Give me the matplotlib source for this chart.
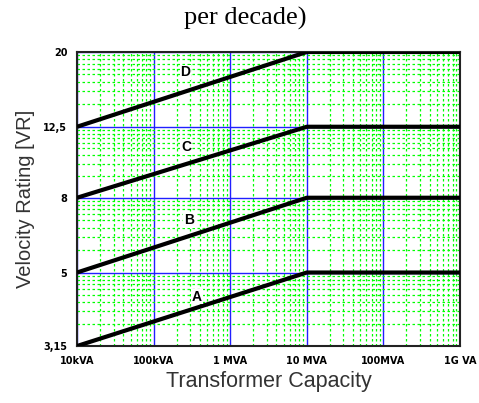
import numpy as np
import matplotlib
matplotlib.use("Agg")
import matplotlib.pyplot as plt
from matplotlib.ticker import FixedLocator, NullFormatter

# capacity range (kVA -> VA) and velocity rating levels
x_ticks = [1e4, 1e5, 1e6, 1e7, 1e8, 1e9]
x_labels = ["10kVA", "100kVA", "1 MVA", "10 MVA", "100MVA", "1G VA"]
y_ticks = [3.15, 5, 8, 12.5, 20]
y_labels = ["3,15", "5", "8", "12,5", "20"]

# each curve: rises from start to end level up to 10 MVA, then flat
curve_names = ["A", "B", "C", "D"]
curve_x = [1e4, 1e7, 1e9]
curve_start = [3.15, 5, 8, 12.5]
curve_end = [5, 8, 12.5, 20]
label_x = [3.7e5, 2.9e5, 2.7e5, 2.6e5]
label_y = [4.3, 6.95, 11.0, 17.6]

fig = plt.figure(figsize=(4.79, 4.03), dpi=100)
ax = fig.add_axes([0.1608, 0.1414, 0.7995, 0.7296])
ax.set_xscale("log")
ax.set_yscale("log")
ax.set_xlim(1e4, 1e9)
ax.set_ylim(3.15, 20)

# minor grid: decade-like subdivisions inside each band
x_minor = [d * k for d in x_ticks[:-1] for k in range(2, 10)]
y_minor = []
for a, b in zip(y_ticks[:-1], y_ticks[1:]):
    for k in range(2, 10):
        y_minor.append(a * (b / a) ** np.log10(k))
ax.xaxis.set_major_locator(FixedLocator(x_ticks))
ax.xaxis.set_minor_locator(FixedLocator(x_minor))
ax.yaxis.set_major_locator(FixedLocator(y_ticks))
ax.yaxis.set_minor_locator(FixedLocator(y_minor))
ax.xaxis.set_minor_formatter(NullFormatter())
ax.yaxis.set_minor_formatter(NullFormatter())
ax.set_xticklabels(x_labels)
ax.set_yticklabels(y_labels)

ax.grid(which="minor", color="#00ff00", linestyle=(0, (2, 2)), linewidth=0.9)
ax.grid(which="major", color="#2020ff", linestyle="-", linewidth=1.0)
ax.set_axisbelow(True)

for name, s, e, lx, ly in zip(curve_names, curve_start, curve_end, label_x, label_y):
    ax.plot(curve_x, [s, e, e], color="black", linewidth=3, solid_capstyle="butt", zorder=3)
    ax.text(lx, ly, name, fontsize=10, fontweight="bold", family="Liberation Sans",
            ha="center", va="center", zorder=4,
            bbox=dict(facecolor="white", edgecolor="none", pad=0.5))

ax.tick_params(which="both", length=0, pad=7)
for lab in ax.get_xticklabels() + ax.get_yticklabels():
    lab.set_fontsize(7)
    lab.set_fontweight("bold")
    lab.set_family("Liberation Sans Narrow")
for sp in ax.spines.values():
    sp.set_color("#222222")
    sp.set_linewidth(1.5)

ax.set_xlabel("Transformer Capacity", fontsize=15.5, family="Liberation Sans",
              color="#333333", labelpad=4)
ax.set_ylabel("Velocity Rating [VR]", fontsize=14.5, family="Liberation Sans",
              color="#333333", labelpad=6)
fig.text(0.512, 0.953, "per decade)", ha="center", va="center", fontsize=19,
         family="Liberation Serif")

fig.savefig("out.png", dpi=100)
